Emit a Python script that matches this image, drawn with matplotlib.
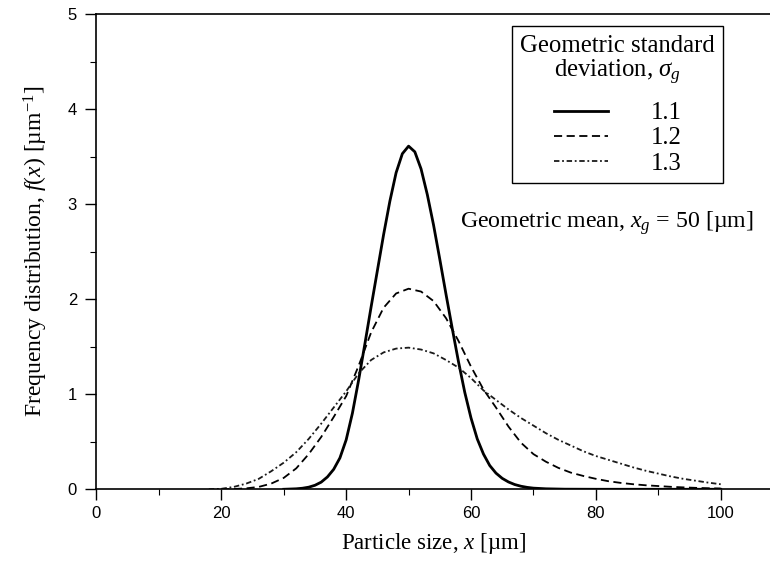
import numpy as np
import matplotlib
matplotlib.use("Agg")
import matplotlib.pyplot as plt
from matplotlib.ticker import MultipleLocator

# values
x_s11 = [30, 32, 33, 34, 35, 36, 37, 38, 39, 40, 41, 42, 43, 44, 45, 46, 47, 48, 49,
         50, 51, 52, 53, 54, 55, 56, 57, 58, 59, 60, 61, 62, 63, 64, 65, 66, 67, 68,
         69, 70, 72, 75, 80, 90, 100]
y_s11 = [0.0, 0.005, 0.011, 0.022, 0.042, 0.075, 0.13, 0.21, 0.33, 0.52, 0.80, 1.15,
         1.53, 1.92, 2.30, 2.68, 3.03, 3.33, 3.53, 3.61, 3.55, 3.37, 3.10, 2.78, 2.42,
         2.05, 1.69, 1.34, 1.02, 0.75, 0.53, 0.37, 0.25, 0.17, 0.115, 0.077, 0.05,
         0.032, 0.02, 0.012, 0.005, 0.001, 0.0, 0.0, 0.0]

x_s12 = [20, 22, 24, 26, 28, 30, 32, 34, 36, 38, 40, 42, 44, 46, 48, 50, 52, 54, 56,
         58, 60, 62, 64, 66, 68, 70, 72, 74, 76, 78, 80, 82, 84, 86, 88, 90, 92, 94,
         96, 98, 100]
y_s12 = [0.0, 0.003, 0.01, 0.025, 0.06, 0.12, 0.22, 0.37, 0.55, 0.76, 0.98, 1.30,
         1.65, 1.91, 2.06, 2.11, 2.08, 1.98, 1.80, 1.56, 1.29, 1.05, 0.86, 0.66, 0.49,
         0.37, 0.29, 0.225, 0.175, 0.14, 0.11, 0.085, 0.067, 0.053, 0.042, 0.034,
         0.026, 0.02, 0.015, 0.011, 0.008]

x_s13 = [18, 20, 22, 24, 26, 28, 30, 32, 34, 36, 38, 40, 42, 44, 46, 48, 50, 52, 54,
         56, 58, 60, 62, 64, 66, 68, 70, 72, 74, 76, 78, 80, 82, 84, 86, 88, 90, 92,
         94, 96, 98, 100]
y_s13 = [0.0, 0.005, 0.025, 0.06, 0.11, 0.19, 0.28, 0.39, 0.53, 0.69, 0.86, 1.03,
         1.22, 1.36, 1.44, 1.48, 1.49, 1.47, 1.43, 1.36, 1.28, 1.17, 1.04, 0.94, 0.84,
         0.75, 0.67, 0.59, 0.52, 0.46, 0.40, 0.35, 0.31, 0.27, 0.23, 0.195, 0.165,
         0.135, 0.11, 0.09, 0.07, 0.053]

labels = ["1.1", "1.2", "1.3"]

plt.rcParams["font.family"] = ["Liberation Serif", "DejaVu Serif"]
plt.rcParams["mathtext.fontset"] = "custom"
plt.rcParams["mathtext.rm"] = "Liberation Serif"
plt.rcParams["mathtext.it"] = "Liberation Serif:italic"

fig = plt.figure(figsize=(7.7, 5.62), dpi=100)
ax = fig.add_axes([0.1253, 0.1294, 0.8747, 0.8457])

ax.plot(x_s11, y_s11, color="black", lw=2.0, ls="-", label=labels[0])
ax.plot(x_s12, y_s12, color="black", lw=1.3, ls=(0, (4.5, 2.5)), label=labels[1])
ax.plot(x_s13, y_s13, color="#1a1a1a", lw=1.3, ls=(0, (3, 1.5, 1, 1.5)), label=labels[2])

ax.set_xlim(0, 107.9)
ax.set_ylim(0, 5)
ax.xaxis.set_major_locator(MultipleLocator(20))
ax.xaxis.set_minor_locator(MultipleLocator(10))
ax.yaxis.set_major_locator(MultipleLocator(1))
ax.yaxis.set_minor_locator(MultipleLocator(0.5))
ax.tick_params(which="major", direction="out", length=8, width=1.0)
ax.tick_params(which="minor", direction="out", length=4.5, width=0.8)
ax.tick_params(axis="x", which="major", pad=4)
ax.tick_params(axis="y", which="major", pad=6)
for lab in ax.get_xticklabels() + ax.get_yticklabels():
    lab.set_family("Liberation Sans")
    lab.set_fontsize(12)
ax.spines["right"].set_visible(False)
for s in ["left", "bottom", "top"]:
    ax.spines[s].set_linewidth(1.2)

ax.set_xlabel("Particle size, $x$ [µm]", fontsize=16.5, labelpad=7)
ax.set_ylabel("Frequency distribution, $f(x)$ [µm$^{-1}$]", fontsize=17, labelpad=13)

leg = ax.legend(title="Geometric standard\ndeviation, $\\sigma_g$", loc="upper right",
                bbox_to_anchor=(100.4 / 107.9, 4.87 / 5), fontsize=17.8,
                title_fontsize=17.8, frameon=True, fancybox=False, edgecolor="black",
                framealpha=1, handlelength=2.2, handletextpad=1.7, labelspacing=0.12,
                borderpad=0.33, borderaxespad=0)
leg.get_frame().set_linewidth(1.0)
leg.get_title().set_multialignment("center")
leg.get_title().set_linespacing(1.05)
leg._legend_box.sep = 11

ax.text(58.3, 2.8, "Geometric mean, $x_g$ = 50 [µm]", fontsize=17.2, va="center", ha="left")

fig.savefig("out.png", dpi=100)
